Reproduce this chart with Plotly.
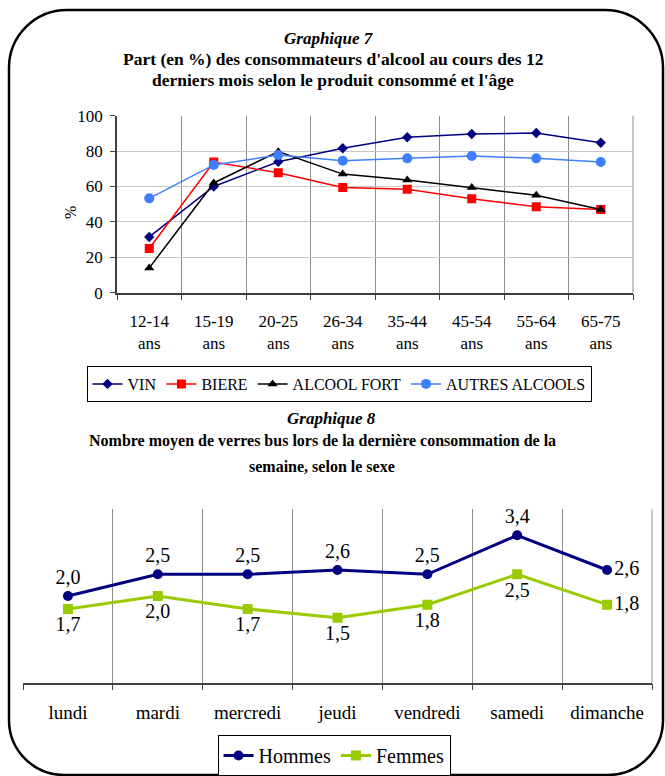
import plotly.graph_objects as go

W, H = 665, 776

# ---------- data: Graphique 7 ----------
age_groups = ["12-14<br>ans", "15-19<br>ans", "20-25<br>ans", "26-34<br>ans",
              "35-44<br>ans", "45-54<br>ans", "55-64<br>ans", "65-75<br>ans"]
vin = [31.5, 60, 74, 81.6, 87.8, 89.7, 90.2, 84.7]
biere = [25, 73.8, 67.8, 59.5, 58.4, 53.1, 48.6, 47]
alcool_fort = [14, 62, 79.7, 67, 63.7, 59.5, 55, 47]
autres = [53.3, 72.2, 77.8, 74.6, 75.9, 77.2, 75.9, 73.8]
y_ticks_7 = [0, 20, 40, 60, 80, 100]

# ---------- data: Graphique 8 ----------
jours = ["lundi", "mardi", "mercredi", "jeudi", "vendredi", "samedi", "dimanche"]
hommes = [2.0, 2.5, 2.5, 2.6, 2.5, 3.4, 2.6]
femmes = [1.7, 2.0, 1.7, 1.5, 1.8, 2.5, 1.8]

FONT = "Liberation Serif"


def px(x):
    return x / W


def py(y):
    return 1 - y / H


def fmt(v):
    return f"{v:.1f}".replace(".", ",")


fig = go.Figure()

series7 = [
    ("VIN", vin, "#000080", "diamond", 8),
    ("BIERE", biere, "#FF0000", "square", 9),
    ("ALCOOL FORT", alcool_fort, "#000000", "triangle-up", 9),
    ("AUTRES ALCOOLS", autres, "#3F7FFF", "circle", 10),
]
for name, vals, col, sym, sz in series7:
    fig.add_trace(go.Scatter(
        x=age_groups, y=vals, name=name, mode="lines+markers",
        line=dict(color=col, width=1.5),
        marker=dict(symbol=sym, size=sz, color=col),
        xaxis="x", yaxis="y", legend="legend",
    ))

fig.add_trace(go.Scatter(
    x=jours, y=hommes, name="Hommes", mode="lines+markers+text",
    line=dict(color="#000080", width=3),
    marker=dict(symbol="circle", size=10, color="#000080"),
    text=[fmt(v) for v in hommes],
    textposition=["top center"] * 6 + ["middle right"],
    textfont=dict(family=FONT, size=20, color="black"),
    xaxis="x2", yaxis="y2", legend="legend2",
))
fig.add_trace(go.Scatter(
    x=jours, y=femmes, name="Femmes", mode="lines+markers+text",
    line=dict(color="#99CC00", width=3),
    marker=dict(symbol="square", size=10, color="#99CC00"),
    text=[fmt(v) for v in femmes],
    textposition=["bottom center"] * 6 + ["middle right"],
    textfont=dict(family=FONT, size=20, color="black"),
    xaxis="x2", yaxis="y2", legend="legend2",
))

# rounded frame
L, T, R, B = 9, 10, 663, 775
rt, rb = 58, 55
kt, kb = 0.5523 * rt, 0.5523 * rb


def P(x, y):
    return f"{px(x):.5f},{py(y):.5f}"


path = (
    f"M {P(L + rt, T)} L {P(R - rt, T)} "
    f"C {P(R - rt + kt, T)} {P(R, T + rt - kt)} {P(R, T + rt)} "
    f"L {P(R, B - rb)} "
    f"C {P(R, B - rb + kb)} {P(R - rb + kb, B)} {P(R - rb, B)} "
    f"L {P(L + rb, B)} "
    f"C {P(L + rb - kb, B)} {P(L, B - rb + kb)} {P(L, B - rb)} "
    f"L {P(L, T + rt)} "
    f"C {P(L, T + rt - kt)} {P(L + rt - kt, T)} {P(L + rt, T)} Z"
)

annotations = [
    dict(text="<b><i>Graphique 7</i></b>", x=px(329), y=py(38), size=17),
    dict(text="<b>Part (en %) des consommateurs d'alcool au cours des 12</b>", x=px(333), y=py(59), size=17.5),
    dict(text="<b>derniers mois selon le produit consommé et l'âge</b>", x=px(333), y=py(80), size=17.5),
    dict(text="<b><i>Graphique 8</i></b>", x=px(331), y=py(418), size=17),
    dict(text="<b>Nombre moyen de verres bus lors de la dernière consommation de la</b>", x=px(322), y=py(441), size=16),
    dict(text="<b>semaine, selon le sexe</b>", x=px(322), y=py(466), size=16),
]
ann = []
for a in annotations:
    s = a.pop("size")
    a.update(xref="paper", yref="paper", showarrow=False, xanchor="center", yanchor="middle",
             font=dict(family=FONT, size=s, color="black"))
    ann.append(a)
ann.append(dict(text="%", x=px(60), y=py(204), xref="paper", yref="paper", showarrow=False,
                textangle=-90, font=dict(family=FONT, size=16, color="black")))

edge_lines = []
for xr, yr in (("x domain", "y domain"), ("x2 domain", "y2 domain")):
    edge_lines.append(dict(type="line", xref=xr, yref=yr, x0=1, x1=1, y0=0, y1=1,
                           line=dict(color="#8c8c8c", width=1), layer="below"))

fig.update_layout(
    width=W, height=H,
    margin=dict(l=0, r=0, t=0, b=0, autoexpand=False),
    paper_bgcolor="white", plot_bgcolor="white",
    font=dict(family=FONT, size=17, color="black"),
    showlegend=True,
    xaxis=dict(
        domain=[px(117), px(633)], anchor="y", type="category", range=[-0.5, 7.5],
        tickson="boundaries", showgrid=True, gridcolor="#8c8c8c", gridwidth=1,
        ticks="outside", ticklen=6, tickcolor="#404040",
        showline=True, linecolor="#404040", linewidth=1.5,
        tickfont=dict(family=FONT, size=17), ticklabelstandoff=12,
    ),
    yaxis=dict(
        domain=[py(292.7), py(115.7)], anchor="x", range=[0, 100],
        tickvals=y_ticks_7, showgrid=True, gridcolor="#c8c8c8", gridwidth=1,
        zeroline=False, ticks="outside", ticklen=5, tickcolor="#404040",
        showline=True, linecolor="#404040", linewidth=1.5,
        tickfont=dict(family=FONT, size=17), ticklabelstandoff=4,
    ),
    xaxis2=dict(
        domain=[px(23), px(652)], anchor="y2", type="category", range=[-0.5, 6.5],
        tickson="boundaries", showgrid=True, gridcolor="#8c8c8c", gridwidth=1,
        ticks="outside", ticklen=6, tickcolor="#404040",
        showline=True, linecolor="#404040", linewidth=1.5,
        tickfont=dict(family=FONT, size=19), ticklabelstandoff=12,
    ),
    yaxis2=dict(
        domain=[py(682.7), py(509.3)], anchor="x2", range=[0, 4],
        showgrid=False, zeroline=False, showticklabels=False, showline=False, ticks="",
    ),
    legend=dict(
        orientation="h", x=px(339), xanchor="center", y=py(366), yanchor="top",
        bordercolor="black", borderwidth=1, bgcolor="white",
        font=dict(family=FONT, size=16), itemwidth=30, tracegroupgap=0,
    ),
    legend2=dict(
        orientation="h", x=px(334), xanchor="center", y=py(735), yanchor="top",
        bordercolor="black", borderwidth=1, bgcolor="white",
        font=dict(family=FONT, size=20), itemwidth=30, tracegroupgap=0,
    ),
    annotations=ann,
    shapes=[dict(type="path", path=path, xref="paper", yref="paper",
                 line=dict(color="black", width=2.5), layer="above")] + edge_lines,
)

fig.write_html(
    "out.html",
    config={"displayModeBar": False},
    post_script="document.documentElement.style.margin='0';document.body.style.margin='0';document.body.style.overflow='hidden';",
)
